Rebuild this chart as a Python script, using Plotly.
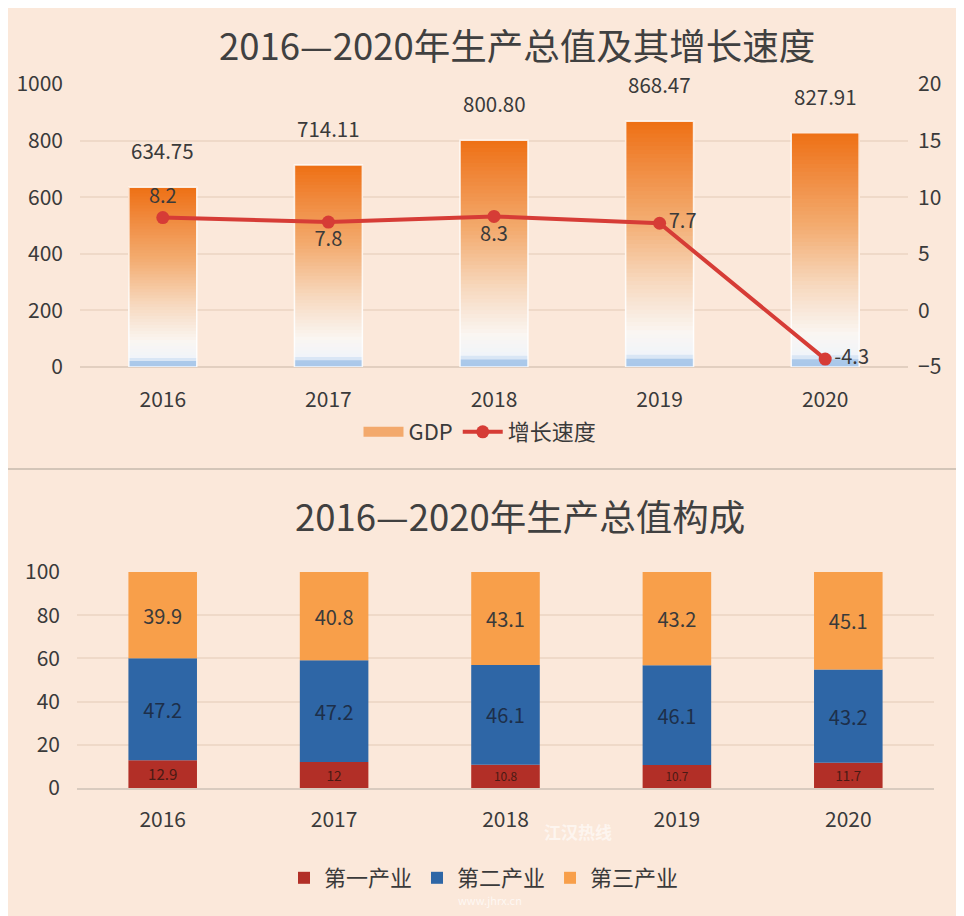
import plotly.graph_objects as go

# ---------------- data ----------------
years = ["2016", "2017", "2018", "2019", "2020"]
gdp = [634.75, 714.11, 800.80, 868.47, 827.91]
growth = [8.2, 7.8, 8.3, 7.7, -4.3]
primary = [12.9, 12.0, 10.8, 10.7, 11.7]
secondary = [47.2, 47.2, 46.1, 46.1, 43.2]
tertiary = [39.9, 40.8, 43.1, 43.2, 45.1]

title_top = "2016—2020年生产总值及其增长速度"
title_bottom = "2016—2020年生产总值构成"

FONT = "Noto Sans CJK SC, Noto Sans, sans-serif"
TXT = "#3a3a3a"
W, H = 964, 916
OFF = 8  # page body margin
BG = "#fbe8da"
GRID = "#efd9c8"

def px_x(x):
    return (x - OFF) / W

def px_y(y):
    return (H - (y - OFF)) / H

# gradient for GDP bars (t = 0 bottom, 1 top)
stops = [(0.0, (170, 200, 234)), (0.035, (172, 202, 234)), (0.045, (240, 244, 250)),
         (0.14, (250, 246, 242)), (0.35, (247, 216, 190)), (0.6, (243, 172, 112)),
         (0.85, (240, 134, 56)), (1.0, (238, 112, 20))]

def grad(t):
    for (t0, c0), (t1, c1) in zip(stops[:-1], stops[1:]):
        if t0 <= t <= t1:
            f = 0 if t1 == t0 else (t - t0) / (t1 - t0)
            c = [round(a + (b - a) * f) for a, b in zip(c0, c1)]
            return "rgb(%d,%d,%d)" % tuple(c)
    return "rgb(%d,%d,%d)" % stops[-1][1]

fig = go.Figure()

# gradient bars: each layer spans from its start to the bar top, later layers cover earlier ones
N = 60
for k in range(N):
    t = (k + 0.5) / N
    fig.add_trace(go.Bar(
        x=years, y=[v * (N - k) / N for v in gdp], base=[v * k / N for v in gdp],
        width=0.41, marker=dict(color=grad(t), line=dict(width=0)),
        showlegend=False, hoverinfo="skip", xaxis="x", yaxis="y"))

# outline of GDP bars
fig.add_trace(go.Bar(
    x=years, y=gdp, width=0.41, name="GDP",
    marker=dict(color="rgba(0,0,0,0)", line=dict(color="rgba(255,255,255,0.85)", width=1.5)),
    showlegend=False, xaxis="x", yaxis="y"))

# legend proxy for GDP
fig.add_trace(go.Scatter(
    x=[years[0]], y=[None], mode="lines", name="GDP",
    line=dict(color="#f3a96c", width=12), xaxis="x", yaxis="y", legend="legend"))

# growth line
fig.add_trace(go.Scatter(
    x=years, y=growth, mode="lines+markers+text", name="增长速度",
    line=dict(color="#d63c36", width=4), marker=dict(color="#d63c36", size=13),
    text=[f"{v:.1f}" for v in growth],
    textposition=["top center", "bottom center", "bottom center", "middle right", "middle right"],
    textfont=dict(family=FONT, size=20, color=TXT),
    xaxis="x", yaxis="y2", cliponaxis=False, legend="legend"))

# bottom stacked bars
base2 = primary
base3 = [a + b for a, b in zip(primary, secondary)]
for name, vals, base, col, tcol in [
    ("第一产业", primary, [0] * 5, "#b22f27", "#4a1a14"),
    ("第二产业", secondary, base2, "#2e66a6", "#1d2f4a"),
    ("第三产业", tertiary, base3, "#f89f4a", TXT),
]:
    fig.add_trace(go.Bar(
        x=years, y=vals, base=base, name=name, width=0.40,
        marker=dict(color=col, line=dict(width=0)),
        text=[f"{v:g}" for v in vals], textposition="inside", insidetextanchor="middle",
        textfont=dict(family=FONT, size=20, color=tcol), textangle=0,
        xaxis="x2", yaxis="y3", legend="legend2"))

annotations = [
    dict(x=px_x(517), y=px_y(45), xref="paper", yref="paper", text=title_top, showarrow=False,
         font=dict(family=FONT, size=36.5, color="#404040"), xanchor="center", yanchor="middle"),
    dict(x=px_x(520), y=px_y(515), xref="paper", yref="paper", text=title_bottom, showarrow=False,
         font=dict(family=FONT, size=36.5, color="#404040"), xanchor="center", yanchor="middle"),
    dict(x=px_x(578), y=px_y(846), xref="paper", yref="paper", text="<b>江汉热线</b>", showarrow=False,
         font=dict(family=FONT, size=17, color="rgba(255,255,255,0.6)")),
    dict(x=px_x(490), y=px_y(910), xref="paper", yref="paper", text="www.jhrx.cn", showarrow=False,
         font=dict(family=FONT, size=11, color="rgba(255,255,255,0.7)")),
]
for i, v in enumerate(gdp):
    annotations.append(dict(x=i, y=v, xref="x", yref="y", text=f"{v:.2f}", showarrow=False,
                            yanchor="bottom", yshift=20,
                            font=dict(family=FONT, size=20.5, color=TXT)))

shapes = [
    dict(type="line", xref="paper", yref="paper", x0=0, x1=1, y0=px_y(469), y1=px_y(469),
         line=dict(color="#d3c5b8", width=2)),
    dict(type="line", xref="paper", yref="paper", x0=px_x(3), x1=px_x(3), y0=0, y1=1,
         line=dict(color="#e4d6ca", width=2)),
]

axis_font = dict(family=FONT, size=21, color=TXT)

fig.update_layout(
    width=W, height=H, margin=dict(l=0, r=0, t=0, b=0, pad=0, autoexpand=False),
    paper_bgcolor=BG, plot_bgcolor="rgba(0,0,0,0)",
    barmode="overlay", bargap=0.5,
    font=dict(family=FONT, color=TXT),
    annotations=annotations, shapes=shapes,
    xaxis=dict(type="category", range=[-0.5, 4.5], domain=[px_x(80), px_x(908)], anchor="y",
               tickfont=axis_font, showline=False, ticks="", showgrid=False, ticklabelstandoff=18),
    yaxis=dict(domain=[px_y(367), px_y(84)], range=[0, 1000], dtick=200, tickfont=axis_font,
               gridcolor=GRID, gridwidth=1.5, zeroline=True, zerolinecolor="#e2cfc0",
               zerolinewidth=1.5, ticks="", ticklabelstandoff=16),
    yaxis2=dict(overlaying="y", side="right", anchor="x", range=[-5, 20], dtick=5,
                tickfont=axis_font, showgrid=False, zeroline=False, ticks="",
                ticklabelstandoff=9),
    xaxis2=dict(type="category", range=[-0.5, 4.5], domain=[px_x(77), px_x(934)], anchor="y3",
                tickfont=axis_font, showline=True, linecolor="#d9cbbf", linewidth=1.5, ticks="",
                showgrid=False, ticklabelstandoff=12),
    yaxis3=dict(domain=[px_y(788), px_y(572)], range=[0, 100], dtick=20, tickfont=axis_font,
                gridcolor=GRID, gridwidth=1.5, zeroline=False, ticks="", ticklabelstandoff=19),
    legend=dict(orientation="h", x=px_x(480), y=px_y(432), xanchor="center", yanchor="middle",
                font=dict(family=FONT, size=22, color=TXT), bgcolor="rgba(0,0,0,0)",
                itemwidth=40),
    legend2=dict(orientation="h", x=px_x(484), y=px_y(878), xanchor="center", yanchor="middle",
                 font=dict(family=FONT, size=22, color=TXT), bgcolor="rgba(0,0,0,0)",
                 traceorder="normal", itemwidth=30),
)

fig.write_html("out.html")
